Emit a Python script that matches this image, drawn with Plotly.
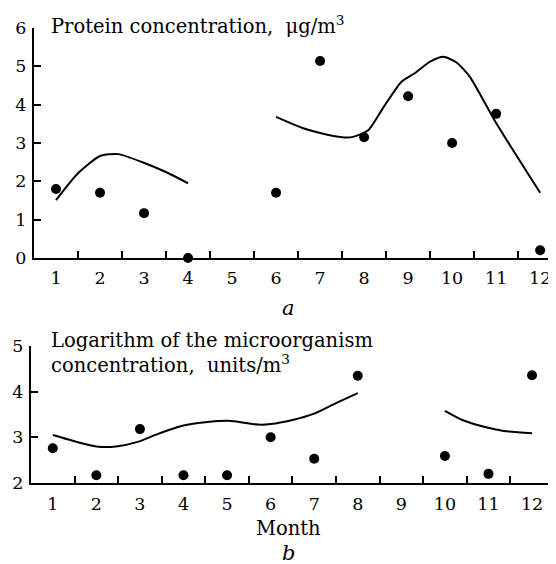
import plotly.graph_objects as go

# The page body has an 8px margin, so the figure is sized to fit the window
OFF = 8
W, H = 556 - OFF, 564 - OFF

# ---- data ----
months = [1, 2, 3, 4, 5, 6, 7, 8, 9, 10, 11, 12]
month_labels = [str(m) for m in months]

protein_obs = [1.8, 1.7, 1.17, 0.0, None, 1.7, 5.14, 3.15, 4.22, 3.0, 3.76, 0.2]
protein_fit1_x = [1, 1.5, 2, 2.42, 2.98, 3.52, 4.0]
protein_fit1_y = [1.51, 2.21, 2.66, 2.71, 2.49, 2.23, 1.95]
protein_fit2_x = [6, 6.6, 7, 7.5, 7.75, 8.1, 8.45, 8.85, 9.15, 9.5, 9.8, 10.1, 10.4, 11, 12]
protein_fit2_y = [3.68, 3.39, 3.26, 3.15, 3.16, 3.34, 3.95, 4.6, 4.82, 5.12, 5.25, 5.1, 4.73, 3.52, 1.7]

micro_obs = [2.76, 2.17, 3.18, 2.17, 2.17, 3.0, 2.53, 4.35, None, 2.59, 2.2, 4.36]
micro_fit1_x = [1, 1.55, 2, 2.45, 2.95, 3.4, 3.95, 4.5, 5.1, 5.7, 6, 6.5, 7, 7.5, 8]
micro_fit1_y = [3.05, 2.9, 2.8, 2.8, 2.9, 3.07, 3.25, 3.33, 3.36, 3.28, 3.29, 3.38, 3.52, 3.75, 3.97]
micro_fit2_x = [10, 10.4, 10.9, 11.35, 12]
micro_fit2_y = [3.58, 3.38, 3.23, 3.14, 3.09]

half_ticks = [m + 0.5 for m in months]

FONT = "DejaVu Serif"
BLACK = "black"

fig = go.Figure()

dot = dict(color=BLACK, size=10)
line = dict(color=BLACK, width=2, shape="spline", smoothing=0.6)

fig.add_trace(go.Scatter(x=months, y=protein_obs, mode="markers", marker=dot,
                         xaxis="x", yaxis="y", cliponaxis=False))
fig.add_trace(go.Scatter(x=protein_fit1_x, y=protein_fit1_y, mode="lines", line=line,
                         xaxis="x", yaxis="y"))
fig.add_trace(go.Scatter(x=protein_fit2_x, y=protein_fit2_y, mode="lines", line=line,
                         xaxis="x", yaxis="y"))

fig.add_trace(go.Scatter(x=months, y=micro_obs, mode="markers", marker=dot,
                         xaxis="x2", yaxis="y2", cliponaxis=False))
fig.add_trace(go.Scatter(x=micro_fit1_x, y=micro_fit1_y, mode="lines", line=line,
                         xaxis="x2", yaxis="y2"))
fig.add_trace(go.Scatter(x=micro_fit2_x, y=micro_fit2_y, mode="lines", line=line,
                         xaxis="x2", yaxis="y2"))

# invisible carriers so the label-only overlay axes get drawn
fig.add_trace(go.Scatter(x=months, y=protein_obs, mode="markers", marker=dict(opacity=0),
                         xaxis="x3", yaxis="y", hoverinfo="skip"))
fig.add_trace(go.Scatter(x=months, y=micro_obs, mode="markers", marker=dict(opacity=0),
                         xaxis="x4", yaxis="y2", hoverinfo="skip"))

tickfont = dict(family=FONT, size=17.5, color=BLACK)

def px_x(p):
    return (p - OFF) / W

def px_y(p):
    return 1 - (p - OFF) / H

common_x = dict(showgrid=False, zeroline=False, showline=True, linecolor=BLACK, linewidth=2,
                ticks="inside", ticklen=7, tickwidth=2, tickcolor=BLACK, automargin=False,
                tickmode="array", tickvals=half_ticks, showticklabels=False, fixedrange=True)
label_x = dict(showgrid=False, zeroline=False, showline=False, ticks="", automargin=False,
               tickmode="array", tickvals=months, ticktext=month_labels,
               showticklabels=True, tickfont=tickfont, fixedrange=True)
common_y = dict(showgrid=False, zeroline=False, showline=True, linecolor=BLACK, linewidth=2,
                ticks="inside", ticklen=7, tickwidth=2, tickcolor=BLACK, automargin=False,
                tickmode="array", tickfont=tickfont, fixedrange=True, ticklabelstandoff=2)

fig.update_layout(
    width=W, height=H,
    margin=dict(l=0, r=0, t=0, b=0, pad=0),
    paper_bgcolor="white", plot_bgcolor="white",
    showlegend=False,
    font=dict(family=FONT, color=BLACK),
    xaxis=dict(domain=[px_x(34), 1], range=[0.5, 12.36], anchor="y", **common_x),
    xaxis3=dict(overlaying="x", range=[0.5, 12.36], anchor="y", ticklabelstandoff=7, **label_x),
    yaxis=dict(domain=[px_y(258), px_y(28)], range=[0, 6], anchor="x",
               tickvals=[0, 1, 2, 3, 4, 5, 6], **common_y),
    xaxis2=dict(domain=[px_x(31), 1], range=[0.5, 12.55], anchor="y2", **common_x),
    xaxis4=dict(overlaying="x2", range=[0.5, 12.55], anchor="y2", ticklabelstandoff=8, **label_x),
    yaxis2=dict(domain=[px_y(483), px_y(346)], range=[2, 5], anchor="x2",
                tickvals=[2, 3, 4, 5], **common_y),
)

ann_font = dict(family=FONT, size=19.5, color=BLACK)
fig.add_annotation(x=px_x(49), y=px_y(25), xref="paper", yref="paper", xanchor="left", yanchor="middle",
                   text="Protein concentration,  μg/m<sup>3</sup>", showarrow=False, font=ann_font)
fig.add_annotation(x=px_x(49), y=px_y(327), xref="paper", yref="paper", xanchor="left", yanchor="top",
                   align="left", text="Logarithm of the microorganism<br>concentration,  units/m<sup>3</sup>",
                   showarrow=False, font=ann_font)
fig.add_annotation(x=px_x(288), y=px_y(308), xref="paper", yref="paper", xanchor="center", yanchor="middle",
                   text="<i>a</i>", showarrow=False, font=dict(family=FONT, size=21, color=BLACK))
fig.add_annotation(x=px_x(288), y=px_y(528), xref="paper", yref="paper", xanchor="center", yanchor="middle",
                   text="Month", showarrow=False, font=ann_font)
fig.add_annotation(x=px_x(288), y=px_y(553), xref="paper", yref="paper", xanchor="center", yanchor="middle",
                   text="<i>b</i>", showarrow=False, font=dict(family=FONT, size=21, color=BLACK))

fig.write_html("out.html")
